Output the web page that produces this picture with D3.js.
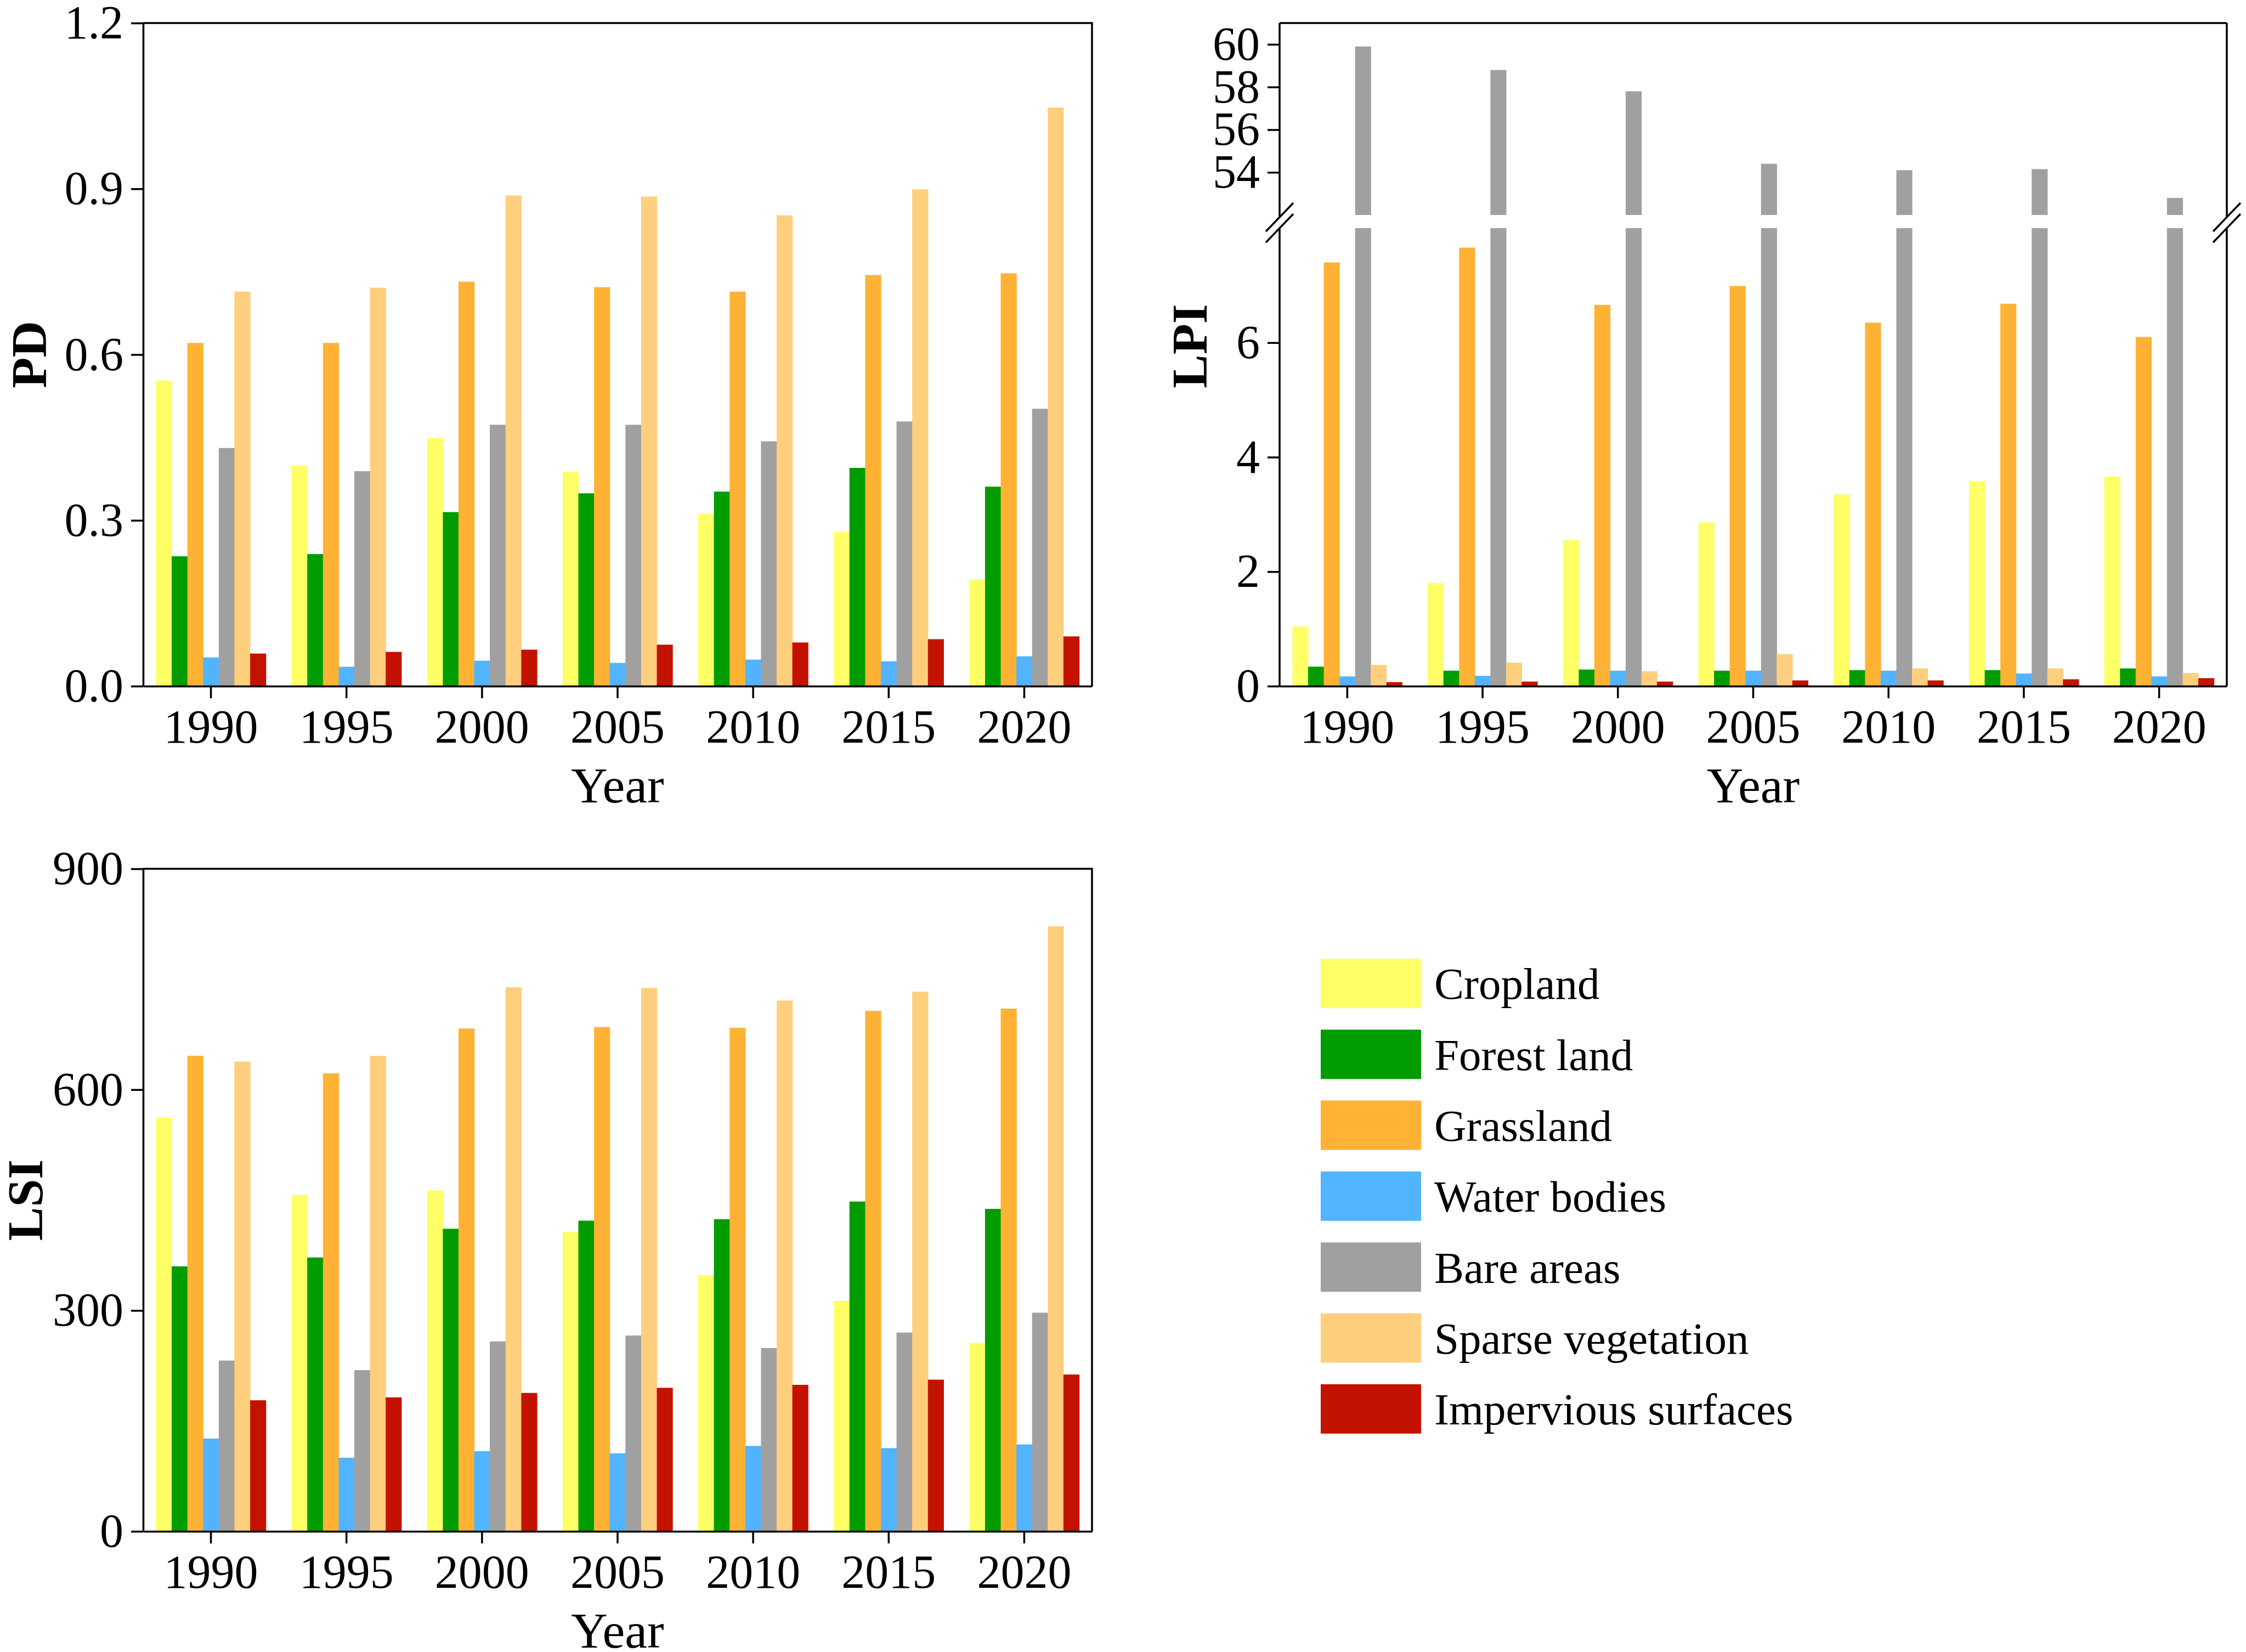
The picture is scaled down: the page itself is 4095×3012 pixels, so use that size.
<!DOCTYPE html>
<meta charset="utf-8">
<style>
  body { margin: 0; background: #fff; }
  text { font-family: 'Liberation Serif', 'Times New Roman', serif; fill: #000; }
  .axis path, .axis line { stroke: #000; stroke-width: 3.5px; }
  .axis text { font-size: 86px; font-family: 'Liberation Serif', serif; }
  .frame { fill: none; stroke: #000; stroke-width: 3.5px; }
  .ytitle { font-size: 92px; font-weight: bold; }
  .xtitle { font-size: 92px; }
  .legend text { font-size: 81px; }
</style>
<body>
<script src="https://d3js.org/d3.v7.min.js"></script>
<script>

// categories and years
var years = ["1990", "1995", "2000", "2005", "2010", "2015", "2020"];
var classes = ["Cropland", "Forest land", "Grassland", "Water bodies",
               "Bare areas", "Sparse vegetation", "Impervious surfaces"];
var colors = ["#ffff66", "#009c00", "#ffb234", "#52b4ff",
              "#a0a0a0", "#ffcf7d", "#c41200"];

// one row per class, one column per year
var pdValues = [
  [0.553, 0.399, 0.449, 0.388, 0.312, 0.279, 0.193],
  [0.235, 0.239, 0.315, 0.349, 0.352, 0.395, 0.361],
  [0.621, 0.621, 0.732, 0.722, 0.714, 0.744, 0.747],
  [0.052, 0.035, 0.046, 0.042, 0.048, 0.045, 0.054],
  [0.431, 0.389, 0.473, 0.473, 0.443, 0.479, 0.502],
  [0.714, 0.721, 0.888, 0.886, 0.852, 0.899, 1.047],
  [0.059, 0.062, 0.066, 0.075, 0.079, 0.085, 0.090]
];
var lpiValues = [
  [1.04, 1.80, 2.55, 2.86, 3.35, 3.58, 3.66],
  [0.34, 0.27, 0.29, 0.27, 0.28, 0.28, 0.31],
  [7.40, 7.66, 6.66, 6.99, 6.35, 6.68, 6.10],
  [0.17, 0.18, 0.27, 0.27, 0.27, 0.22, 0.17],
  [59.9, 58.8, 57.8, 54.4, 54.1, 54.15, 52.8],
  [0.37, 0.41, 0.26, 0.56, 0.31, 0.31, 0.23],
  [0.07, 0.08, 0.08, 0.10, 0.10, 0.12, 0.14]
];
var lsiValues = [
  [562, 457, 463, 407, 348, 313, 256],
  [360, 372, 411, 422, 424, 448, 438],
  [646, 622, 683, 685, 684, 707, 710],
  [126, 100, 109, 106, 116, 113, 118],
  [232, 219, 258, 266, 249, 270, 297],
  [638, 646, 739, 738, 721, 733, 822],
  [178, 182, 188, 195, 199, 206, 213]
];

// tick labels
var pdTicks = [0, 0.3, 0.6, 0.9, 1.2];
var lsiTicks = [0, 300, 600, 900];
var lpiLowTicks = [0, 2, 4, 6];
var lpiHighTicks = [54, 56, 58, 60];
var lpiLowDomain = [0, 8];
var lpiHighDomain = [52, 61];

var svg = d3.select("body").append("svg")
  .attr("width", 4095)
  .attr("height", 3012);

function flat(values) {
  var out = [];
  values.forEach(function (row, k) {
    row.forEach(function (v, j) {
      out.push({ k: k, year: years[j], v: v });
    });
  });
  return out;
}

function xScales(box) {
  var x = d3.scaleBand().domain(years)
    .range([box.left, box.right])
    .paddingInner(0.19)
    .paddingOuter(0.095);
  var xi = d3.scaleBand().domain(d3.range(classes.length))
    .range([0, x.bandwidth()]);
  return [x, xi];
}

function bottomAxis(g, x, box) {
  g.append("g")
    .attr("class", "axis")
    .attr("transform", "translate(0," + box.bottom + ")")
    .call(d3.axisBottom(x).tickSize(22).tickPadding(20).tickSizeOuter(0));
  g.append("text")
    .attr("class", "xtitle")
    .attr("text-anchor", "middle")
    .attr("x", (box.left + box.right) / 2)
    .attr("y", box.bottom + 212)
    .text("Year");
}

function yTitle(g, text, tx, ty) {
  g.append("text")
    .attr("class", "ytitle")
    .attr("text-anchor", "middle")
    .attr("dy", "0.35em")
    .attr("transform", "translate(" + tx + "," + ty + ") rotate(-90)")
    .text(text);
}

// plain panel (PD, LSI)
function simplePanel(values, box, ticks, fmt, title, titleX) {
  var sc = xScales(box), x = sc[0], xi = sc[1];
  var y = d3.scaleLinear().domain([0, ticks[ticks.length - 1]])
    .range([box.bottom, box.top]);
  var g = svg.append("g");

  g.selectAll("rect").data(flat(values)).join("rect")
    .attr("x", function (d) { return x(d.year) + xi(d.k); })
    .attr("width", xi.bandwidth() + 0.6)
    .attr("y", function (d) { return y(d.v); })
    .attr("height", function (d) { return y(0) - y(d.v); })
    .attr("fill", function (d) { return colors[d.k]; });

  g.append("path").attr("class", "frame")
    .attr("d", "M" + box.left + "," + box.top + "H" + box.right + "V" + box.bottom);

  g.append("g")
    .attr("class", "axis")
    .attr("transform", "translate(" + box.left + ",0)")
    .call(d3.axisLeft(y).tickValues(ticks).tickFormat(d3.format(fmt))
      .tickSize(22).tickPadding(14).tickSizeOuter(0));

  bottomAxis(g, x, box);
  yTitle(g, title, titleX, (box.top + box.bottom) / 2);
}

// broken-axis panel (LPI)
function brokenPanel(values, box) {
  var sc = xScales(box), x = sc[0], xi = sc[1];
  var brk = [396, 416];
  var yLow = d3.scaleLinear().domain(lpiLowDomain).range([box.bottom, brk[1]]);
  var yHigh = d3.scaleLinear().domain(lpiHighDomain).range([brk[0] - 4, box.top]);
  var g = svg.append("g");

  var data = flat(values);
  // part below the break
  g.selectAll("rect.low").data(data).join("rect")
    .attr("class", "low")
    .attr("x", function (d) { return x(d.year) + xi(d.k); })
    .attr("width", xi.bandwidth() + 0.6)
    .attr("y", function (d) { return yLow(Math.min(d.v, lpiLowDomain[1])); })
    .attr("height", function (d) { return yLow(0) - yLow(Math.min(d.v, lpiLowDomain[1])); })
    .attr("fill", function (d) { return colors[d.k]; });
  // part above the break
  g.selectAll("rect.high").data(data.filter(function (d) { return d.v > lpiHighDomain[0]; }))
    .join("rect")
    .attr("class", "high")
    .attr("x", function (d) { return x(d.year) + xi(d.k); })
    .attr("width", xi.bandwidth() + 0.6)
    .attr("y", function (d) { return yHigh(d.v); })
    .attr("height", function (d) { return yHigh(lpiHighDomain[0]) - yHigh(d.v); })
    .attr("fill", function (d) { return colors[d.k]; });

  var frame = "M" + box.left + "," + box.top + "H" + box.right
    + "M" + box.left + "," + box.top + "V" + brk[0]
    + "M" + box.left + "," + brk[1] + "V" + box.bottom
    + "M" + box.right + "," + box.top + "V" + brk[0]
    + "M" + box.right + "," + brk[1] + "V" + box.bottom;
  [box.left, box.right].forEach(function (cx) {
    brk.forEach(function (cy) {
      frame += "M" + (cx - 25) + "," + (cy + 26) + "L" + (cx + 25) + "," + (cy - 26);
    });
  });
  g.append("path").attr("class", "frame").attr("d", frame);

  g.append("g")
    .attr("class", "axis")
    .attr("transform", "translate(" + box.left + ",0)")
    .call(d3.axisLeft(yLow).tickValues(lpiLowTicks).tickSize(22).tickPadding(14))
    .call(function (a) { a.select(".domain").remove(); });
  g.append("g")
    .attr("class", "axis")
    .attr("transform", "translate(" + box.left + ",0)")
    .call(d3.axisLeft(yHigh).tickValues(lpiHighTicks).tickSize(22).tickPadding(14))
    .call(function (a) { a.select(".domain").remove(); });

  bottomAxis(g, x, box);
  yTitle(g, "LPI", 2168, 631);
}

simplePanel(pdValues, { left: 261, right: 1991, top: 42, bottom: 1251 }, pdTicks, ".1f", "PD", 52);
brokenPanel(lpiValues, { left: 2333, right: 4060, top: 42, bottom: 1251 });
simplePanel(lsiValues, { left: 261, right: 1991, top: 1584, bottom: 2792 }, lsiTicks, "d", "LSI", 45);

// legend
var legend = svg.append("g").attr("class", "legend");
var rowStep = 129.3;
var item = legend.selectAll("g").data(classes).join("g")
  .attr("transform", function (d, i) { return "translate(2408," + (1748 + i * rowStep) + ")"; });
item.append("rect")
  .attr("width", 183)
  .attr("height", 90)
  .attr("fill", function (d, i) { return colors[i]; });
item.append("text")
  .attr("x", 207)
  .attr("y", 45)
  .attr("dy", "0.35em")
  .text(function (d) { return d; });

</script>
</body>
